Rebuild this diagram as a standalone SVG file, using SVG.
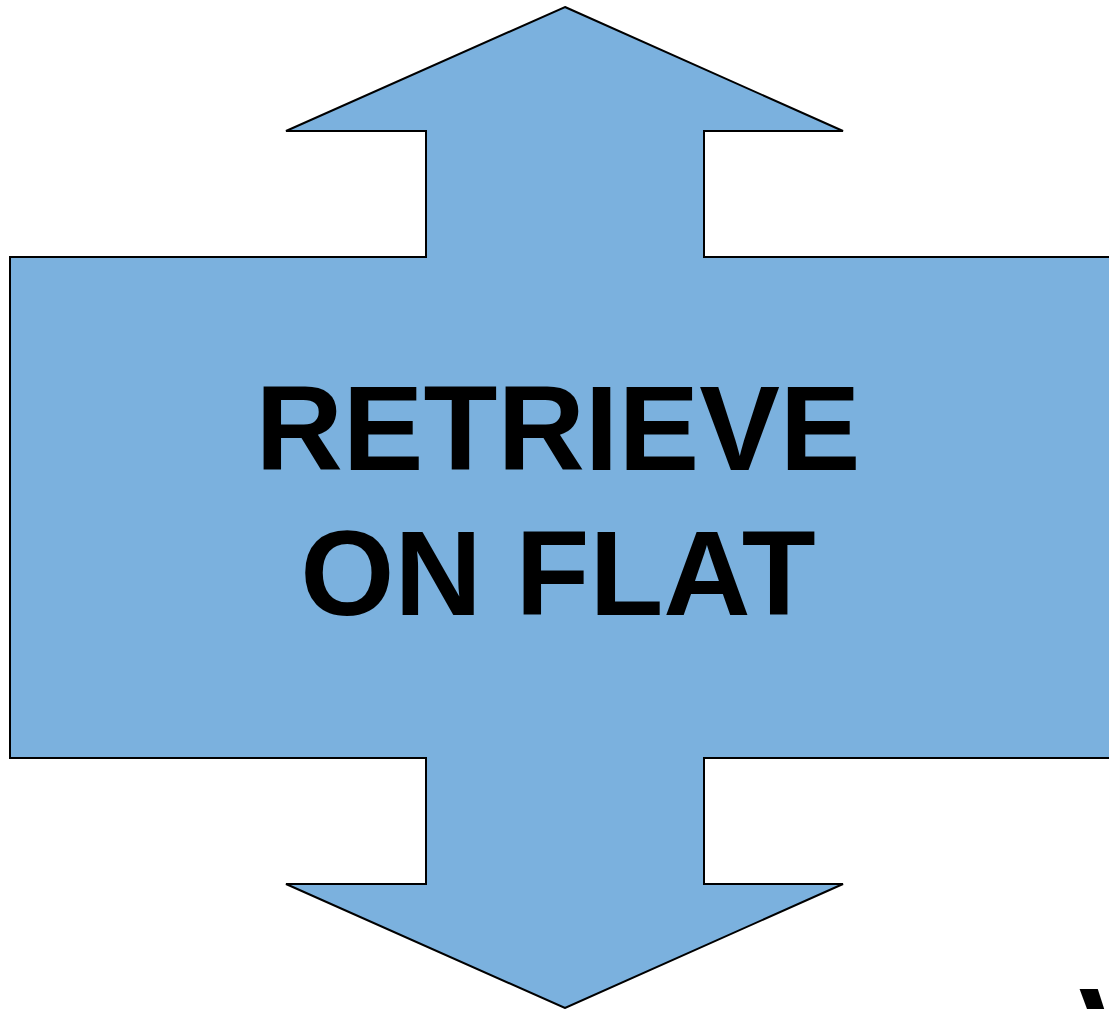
<svg xmlns="http://www.w3.org/2000/svg" width="1109" height="1009" viewBox="0 0 1109 1009">
<style>
.shape{fill:#7bb1de;stroke:#000;stroke-width:2;stroke-linejoin:miter}
.lbl{font-family:"Liberation Sans",Arial,sans-serif;font-weight:bold;font-size:121px;fill:#000;text-anchor:middle}
</style>
<rect width="1109" height="1009" fill="#fff"/>
<g id="node-retrieve">
<polygon class="shape" points="565,7 843,131 704,131 704,257 1125,257 1125,758 704,758 704,884 843,884 565,1008 286,884 426,884 426,758 10,758 10,257 426,257 426,131 286,131"/>
<text class="lbl" x="558" y="470">RETRIEVE</text>
<text class="lbl" x="558" y="615">ON FLAT</text>
</g>
<g id="connectors"></g>
<g id="node-fragment">
<text class="lbl" x="1119" y="1072">V</text>
</g>
</svg>
